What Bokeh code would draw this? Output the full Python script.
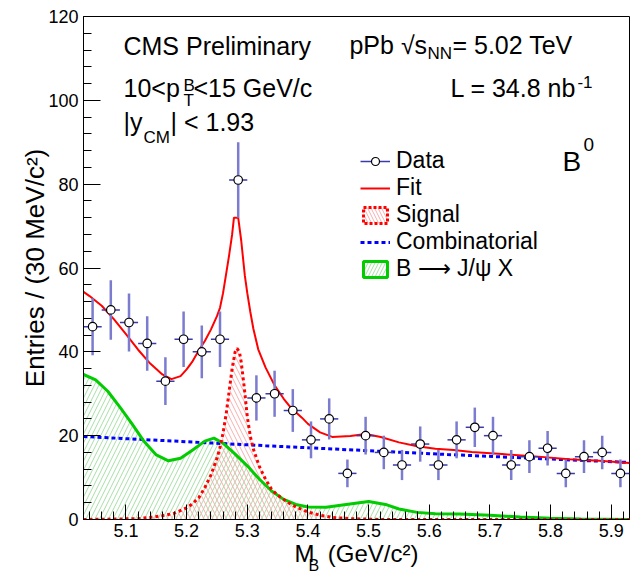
from bokeh.plotting import figure
from bokeh.models import ColumnDataSource, Legend, LegendItem, Label, FixedTicker, LinearAxis
from bokeh.embed import file_html
from bokeh.resources import INLINE

# ---------------- data ----------------
bin_centers = [5.045, 5.075, 5.105, 5.135, 5.165, 5.195, 5.225, 5.255, 5.285, 5.315,
               5.345, 5.375, 5.405, 5.435, 5.465, 5.495, 5.525, 5.555, 5.585, 5.615,
               5.645, 5.675, 5.705, 5.735, 5.765, 5.795, 5.825, 5.855, 5.885, 5.915]
counts = [46, 50, 47, 42, 33, 43, 40, 43, 81, 29,
          30, 26, 19, 24, 11, 20, 16, 13, 18, 13,
          19, 22, 20, 13, 15, 17, 11, 15, 16, 11]
errors = [6.8, 7.1, 6.9, 6.5, 5.7, 6.6, 6.3, 6.6, 9.0, 5.4,
          5.5, 5.1, 4.4, 4.9, 3.3, 4.5, 4.0, 3.6, 4.2, 3.6,
          4.4, 4.7, 4.5, 3.6, 3.9, 4.1, 3.3, 3.9, 4.0, 3.3]
bin_half_width = 0.015

fit_x = [5.03, 5.04, 5.06, 5.08, 5.10, 5.12, 5.14, 5.16, 5.175, 5.19,
         5.20, 5.21, 5.22, 5.23, 5.24, 5.25, 5.255, 5.26, 5.265, 5.27,
         5.275, 5.278, 5.285, 5.29, 5.296, 5.30, 5.305, 5.31, 5.318, 5.33,
         5.345, 5.36, 5.37, 5.38, 5.39, 5.40, 5.42, 5.44, 5.47, 5.495,
         5.52, 5.55, 5.58, 5.61, 5.64, 5.67, 5.72, 5.78, 5.83, 5.88, 5.93]
fit_y = [54.3, 53.3, 51.0, 47.8, 44.2, 40.5, 37.2, 34.6, 33.5, 34.2,
         35.8, 37.8, 40.3, 42.6, 45.3, 48.5, 50.5, 54.0, 58.5, 63.0,
         68.0, 72.0, 72.0, 66.5, 58.1, 54.0, 49.5, 45.5, 40.6, 36.3,
         32.0, 28.8, 27.0, 25.6, 24.3, 22.8, 20.8, 19.7, 19.9, 20.4,
         19.7, 18.4, 17.5, 16.9, 16.6, 16.1, 15.6, 15.0, 14.4, 14.0, 13.5]

sig_x = [5.03, 5.12, 5.14, 5.16, 5.18, 5.20, 5.21, 5.22, 5.23, 5.24,
         5.25, 5.255, 5.26, 5.265, 5.27, 5.275, 5.28, 5.283, 5.287, 5.29,
         5.295, 5.30, 5.305, 5.31, 5.32, 5.33, 5.34, 5.35, 5.36, 5.37,
         5.38, 5.39, 5.40, 5.42, 5.44, 5.47, 5.52, 5.93]
sig_y = [0.0, 0.2, 0.5, 0.9, 1.5, 2.8, 3.8, 5.2, 7.6, 10.6,
         14.6, 17.2, 20.6, 25.0, 30.5, 36.0, 40.0, 40.8, 40.0, 37.5,
         31.5, 24.5, 19.8, 16.8, 12.6, 9.6, 7.2, 5.8, 4.8, 3.8,
         3.0, 2.4, 1.8, 1.0, 0.5, 0.2, 0.0, 0.0]

comb_x = [5.03, 5.33, 5.63, 5.93]
comb_y = [19.8, 17.6, 15.5, 13.6]

jpsi_x = [5.03, 5.05, 5.07, 5.09, 5.11, 5.13, 5.15, 5.17, 5.19, 5.21,
          5.23, 5.245, 5.26, 5.28, 5.30, 5.32, 5.34, 5.36, 5.38, 5.40,
          5.43, 5.46, 5.50, 5.53, 5.55, 5.58, 5.61, 5.65, 5.70, 5.75,
          5.80, 5.85, 5.93]
jpsi_y = [34.6, 33.3, 30.6, 26.8, 22.8, 18.6, 15.4, 14.0, 14.6, 16.6,
          18.7, 19.4, 18.2, 15.6, 12.8, 9.6, 6.8, 4.8, 3.6, 3.0,
          2.9, 3.5, 4.3, 3.5, 2.5, 1.7, 1.4, 1.3, 1.0, 0.6,
          0.3, 0.1, 0.0]

x_major = [5.1, 5.2, 5.3, 5.4, 5.5, 5.6, 5.7, 5.8, 5.9]
x_minor = [5.04, 5.06, 5.08, 5.12, 5.14, 5.16, 5.18, 5.22, 5.24, 5.26, 5.28,
           5.32, 5.34, 5.36, 5.38, 5.42, 5.44, 5.46, 5.48, 5.52, 5.54, 5.56, 5.58,
           5.62, 5.64, 5.66, 5.68, 5.72, 5.74, 5.76, 5.78, 5.82, 5.84, 5.86, 5.88, 5.92]
y_major = [0, 20, 40, 60, 80, 100, 120]
y_minor = [4, 8, 12, 16, 24, 28, 32, 36, 44, 48, 52, 56, 64, 68, 72, 76,
           84, 88, 92, 96, 104, 108, 112, 116]

x_title = "M\u00a0\u00a0(GeV/c²)"
x_title_sub = "B"
x_title_sub_pos = 5.4095

FONT = "Liberation Sans"
NAN = float("nan")

# ---------------- figure ----------------
p = figure(width=633, height=576, x_range=(5.03, 5.93), y_range=(0, 120),
           output_backend="svg", toolbar_location=None,
           min_border_left=83, min_border_right=4, min_border_top=16, min_border_bottom=57)
p.grid.visible = False
p.outline_line_color = "black"
p.outline_line_width = 1
p.background_fill_color = "white"
p.border_fill_color = "white"

for ax in (p.xaxis, p.yaxis):
    ax.major_tick_out = 0
    ax.minor_tick_out = 0
    ax.axis_line_color = "black"
    ax.major_tick_line_color = "black"
    ax.minor_tick_line_color = "black"
    ax.major_label_text_font = FONT
    ax.major_label_text_font_size = "18px"
    ax.major_label_text_color = "black"
    ax.axis_label_text_font = FONT
    ax.axis_label_text_font_style = "normal"
    ax.axis_label_text_color = "black"

p.xaxis.ticker = FixedTicker(ticks=x_major, minor_ticks=x_minor)
p.xaxis.major_tick_in = 15
p.xaxis.minor_tick_in = 8
p.xaxis.major_label_standoff = 4
p.xaxis.axis_label = x_title
p.xaxis.axis_label_text_font_size = "24px"
p.xaxis.axis_label_standoff = 0

p.yaxis.ticker = FixedTicker(ticks=y_major, minor_ticks=y_minor)
p.yaxis.major_tick_in = 17
p.yaxis.minor_tick_in = 8
p.yaxis.major_label_standoff = 5
p.yaxis.axis_label = "Entries / (30 MeV/c²)"
p.yaxis.axis_label_text_font_size = "26px"
p.yaxis.axis_label_standoff = -5

# subscript of the x title: an extra axis below, with one labelled position and no lines
sub_axis = LinearAxis(ticker=FixedTicker(ticks=[x_title_sub_pos], minor_ticks=[]),
                      major_label_overrides={x_title_sub_pos: x_title_sub},
                      axis_line_color=None, major_tick_line_color=None, minor_tick_line_color=None,
                      major_tick_in=0, major_tick_out=0, minor_tick_in=0, minor_tick_out=0,
                      major_label_standoff=-13, major_label_text_font=FONT,
                      major_label_text_font_size="16px", major_label_text_color="black")
p.add_layout(sub_axis, "below")

# ---------------- sources ----------------
data_src = ColumnDataSource(dict(
    x=bin_centers, y=counts,
    lo=[c - e for c, e in zip(counts, errors)],
    hi=[c + e for c, e in zip(counts, errors)],
    xl=[x - bin_half_width for x in bin_centers],
    xr=[x + bin_half_width for x in bin_centers],
))
fit_src = ColumnDataSource(dict(x=fit_x, y=fit_y))
sig_src = ColumnDataSource(dict(x=sig_x, y=sig_y, z=[0] * len(sig_x)))
comb_src = ColumnDataSource(dict(x=comb_x, y=comb_y))
jpsi_src = ColumnDataSource(dict(x=jpsi_x, y=jpsi_y, z=[0] * len(jpsi_x)))

GREEN_HATCH = "#a6dea6"
RED_HATCH = "#f5b0b0"

# hatched areas
p.varea(x="x", y1="z", y2="y", source=jpsi_src, fill_alpha=0,
        hatch_pattern="/", hatch_color=GREEN_HATCH, hatch_scale=9, hatch_weight=1)
p.varea(x="x", y1="z", y2="y", source=sig_src, fill_alpha=0,
        hatch_pattern="\\", hatch_color=RED_HATCH, hatch_scale=9, hatch_weight=1)

comb_r = p.line("x", "y", source=comb_src, line_color="#0000ff", line_width=3, line_dash="4 3")
jpsi_r = p.line("x", "y", source=jpsi_src, line_color="#00cc00", line_width=3)
sig_r = p.line("x", "y", source=sig_src, line_color="#ff0000", line_width=3, line_dash="3 3")
fit_r = p.line("x", "y", source=fit_src, line_color="#ff0000", line_width=2)

vbar_r = p.segment(x0="x", y0="lo", x1="x", y1="hi", source=data_src,
                   line_color="#7b7bd0", line_width=2.5)
hbar_r = p.segment(x0="xl", y0="y", x1="xr", y1="y", source=data_src,
                   line_color="#3a3aaa", line_width=1.5)
pts_r = p.scatter("x", "y", source=data_src, size=8.5, marker="circle",
                  fill_color="white", line_color="black", line_width=1.2)

# legend-only box glyphs (a single NaN row, so nothing is drawn in the plot)
sig_box = p.quad(left=[NAN], right=[NAN], top=[NAN], bottom=[NAN], fill_alpha=0,
                 hatch_pattern="\\", hatch_color=RED_HATCH, hatch_scale=7,
                 line_color="#ff0000", line_dash="3 2", line_width=3)
jpsi_box = p.quad(left=[NAN], right=[NAN], top=[NAN], bottom=[NAN], fill_alpha=0,
                  hatch_pattern="/", hatch_color=GREEN_HATCH, hatch_scale=7,
                  line_color="#00cc00", line_width=3)

legend = Legend(items=[
    LegendItem(label="Data", renderers=[hbar_r, pts_r]),
    LegendItem(label="Fit", renderers=[fit_r]),
    LegendItem(label="Signal", renderers=[sig_box]),
    LegendItem(label="Combinatorial", renderers=[comb_r]),
    LegendItem(label="B ⟶ J/ψ X", renderers=[jpsi_box]),
], location=(277, 237))
legend.label_text_font = FONT
legend.label_text_font_size = "23px"
legend.label_text_color = "black"
legend.glyph_width = 30
legend.glyph_height = 20
legend.label_height = 22
legend.label_standoff = 6
legend.spacing = 0
legend.padding = 0
legend.margin = 0
legend.border_line_alpha = 0
legend.background_fill_alpha = 0
p.add_layout(legend)

# ---------------- texts ----------------
def txt(x, y, s, size):
    p.add_layout(Label(x=x, y=y, text=s, text_font=FONT, text_font_size=f"{size}px",
                       text_color="black", text_baseline="alphabetic", text_align="left"))

txt(5.0959, 112.96, "CMS Preliminary", 25)
txt(5.0959, 102.94, "10<p", 25)
txt(5.1948, 103.65, "B", 17)
txt(5.1948, 100.07, "T", 17)
txt(5.2112, 102.94, "<15 GeV/c", 25)
txt(5.0959, 94.95, "|y", 25)
txt(5.1289, 91.25, "CM", 17)
txt(5.1734, 94.95, "| < 1.93", 25)
txt(5.4684, 113.20, "pPb √s", 25)
txt(5.5970, 111.29, "NN", 17)
txt(5.6382, 113.20, "= 5.02 TeV", 25)
txt(5.6349, 102.94, "L = 34.8 nb", 25)
txt(5.8442, 104.37, "-1", 17)
txt(5.8195, 85.45, "B", 28)
txt(5.8541, 89.50, "0", 19)

open("out.html", "w").write(file_html(p, INLINE))
